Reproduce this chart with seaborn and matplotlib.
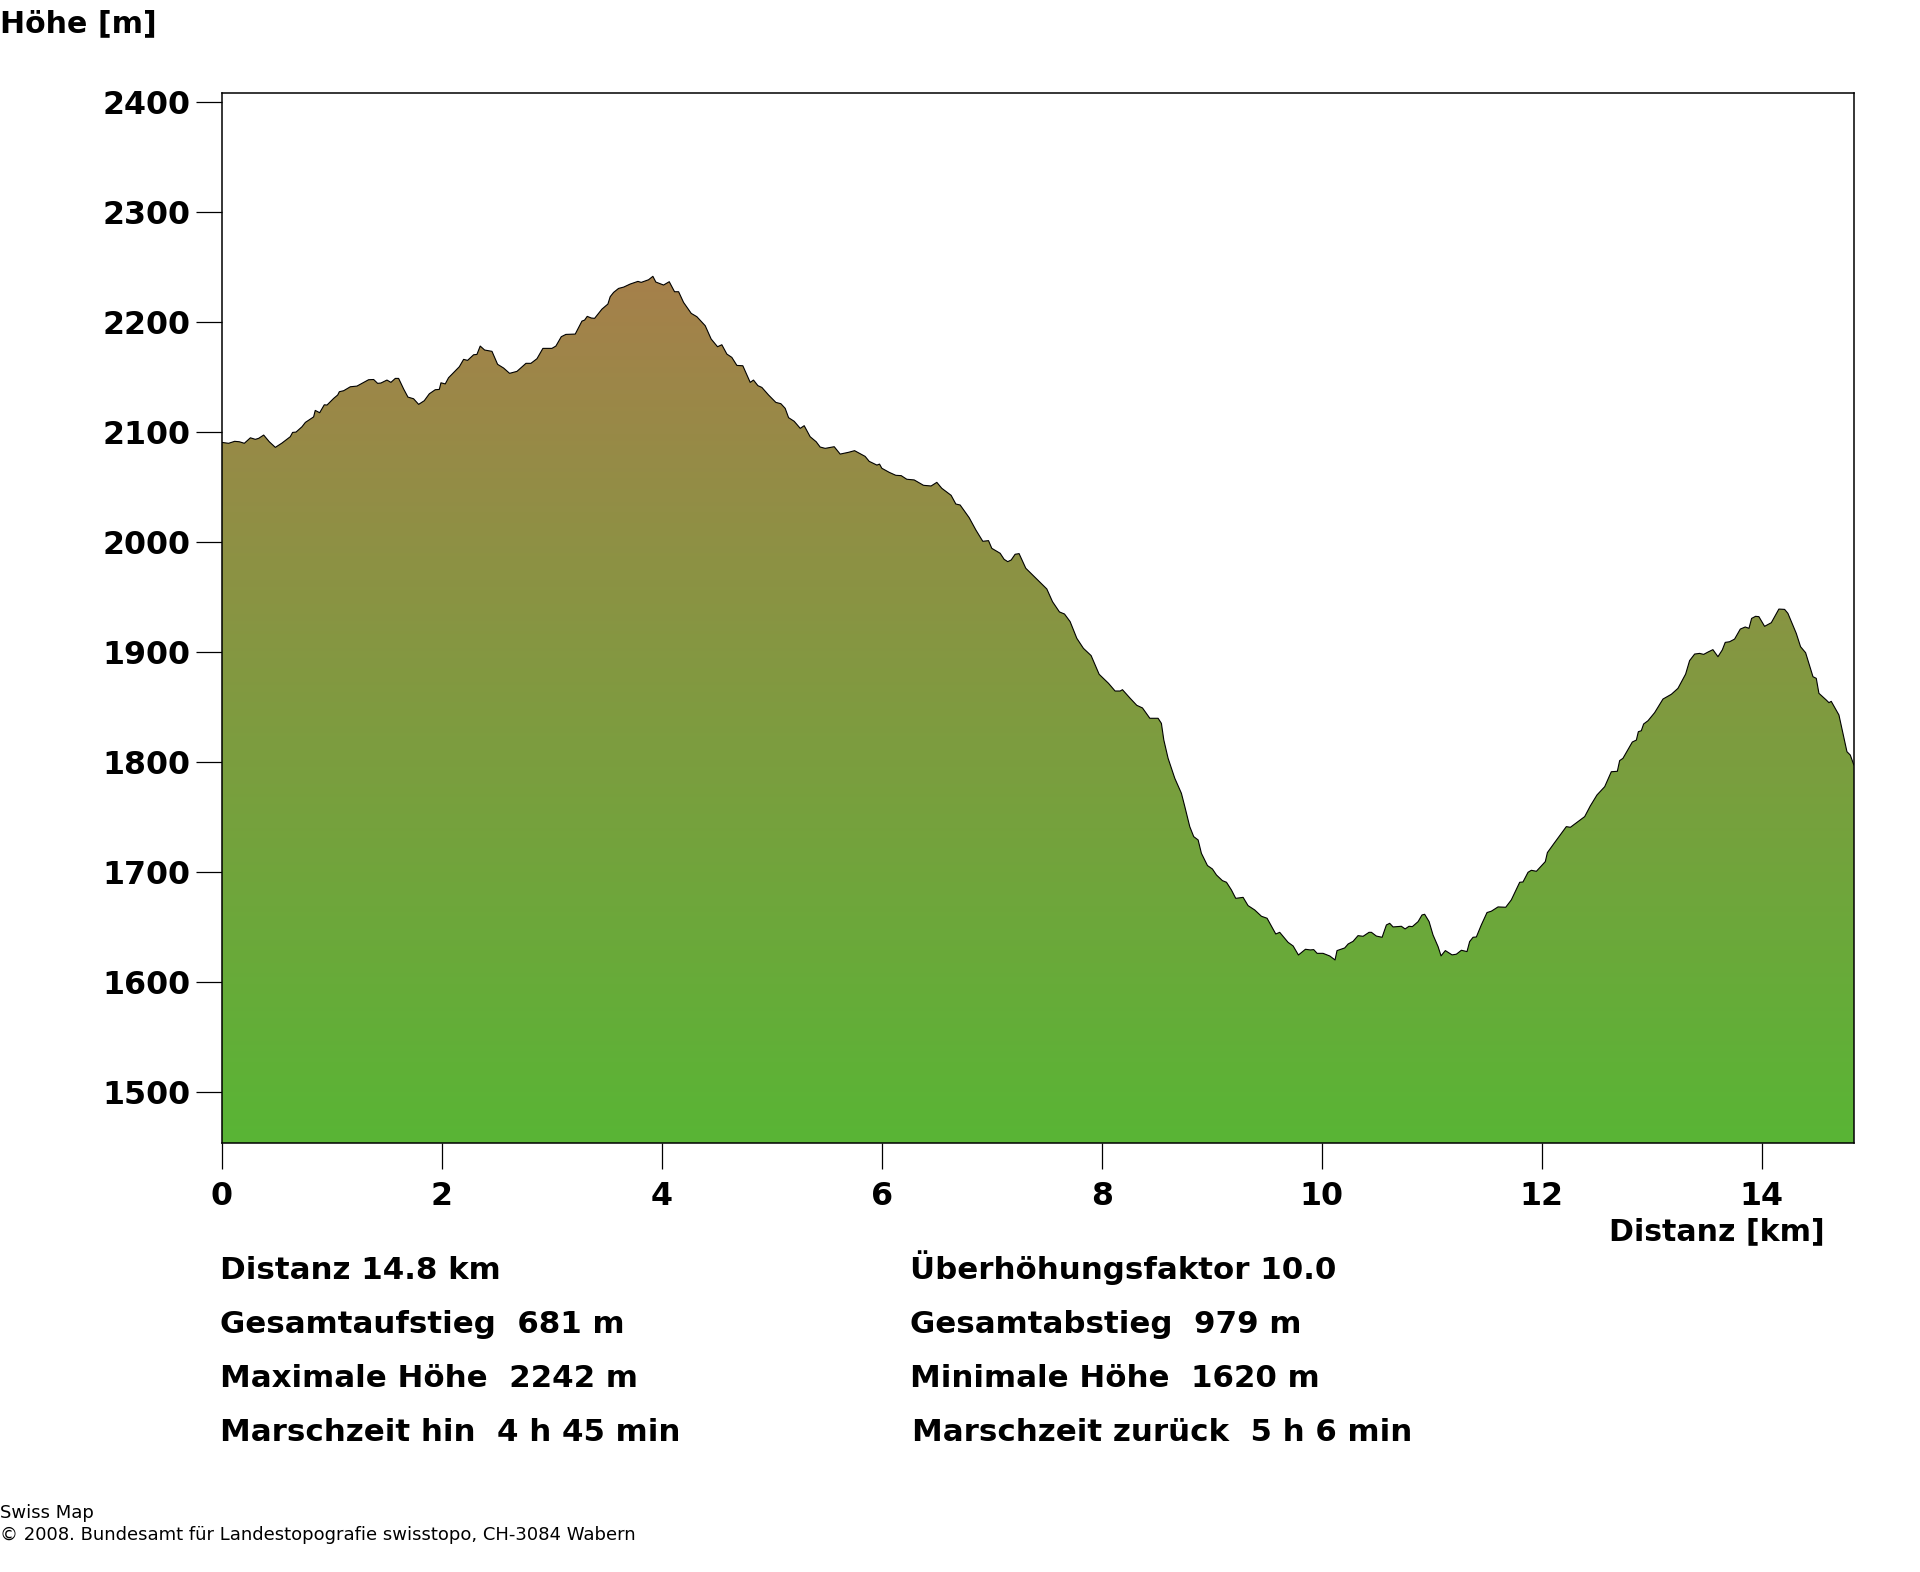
import matplotlib
matplotlib.use("Agg")
import matplotlib.pyplot as plt
from matplotlib.colors import LinearSegmentedColormap
import numpy as np
import pandas as pd
import seaborn as sns

# Profile
distance_km = [
    0.00, 0.06, 0.115, 0.158, 0.203, 0.258, 0.303, 0.333, 0.379, 0.43, 0.485, 0.545, 0.621, 0.642, 0.673,
    0.727, 0.758, 0.833, 0.848, 0.888, 0.93, 0.955, 1.015, 1.052, 1.067, 1.106, 1.167, 1.227, 1.333, 1.379,
    1.415, 1.445, 1.5, 1.536, 1.576, 1.606, 1.652, 1.691, 1.742, 1.788, 1.839, 1.885, 1.939, 1.976, 1.991,
    2.03, 2.06, 2.158, 2.197, 2.233, 2.288, 2.318, 2.348, 2.388, 2.455, 2.506, 2.561, 2.615, 2.682, 2.764,
    2.809, 2.864, 2.918, 3.0, 3.036, 3.085, 3.127, 3.212, 3.273, 3.297, 3.321, 3.358, 3.388, 3.455, 3.509,
    3.53, 3.561, 3.606, 3.652, 3.712, 3.782, 3.812, 3.879, 3.918, 3.945, 4.015, 4.067, 4.115, 4.152, 4.197,
    4.267, 4.318, 4.394, 4.448, 4.506, 4.545, 4.591, 4.636, 4.682, 4.736, 4.803, 4.833, 4.873, 4.909, 4.97,
    5.036, 5.082, 5.121, 5.152, 5.203, 5.258, 5.294, 5.348, 5.403, 5.439, 5.485, 5.567, 5.621, 5.697, 5.752,
    5.848, 5.885, 5.955, 5.979, 6.0, 6.067, 6.127, 6.176, 6.227, 6.294, 6.379, 6.448, 6.5, 6.545, 6.63,
    6.673, 6.712, 6.794, 6.855, 6.918, 6.97, 7.0, 7.076, 7.112, 7.145, 7.176, 7.212, 7.248, 7.309, 7.424,
    7.5, 7.552, 7.615, 7.661, 7.712, 7.773, 7.833, 7.903, 7.976, 8.061, 8.121, 8.167, 8.188, 8.258, 8.318,
    8.37, 8.437, 8.512, 8.542, 8.564, 8.603, 8.664, 8.724, 8.755, 8.8, 8.836, 8.876, 8.906, 8.961, 9.006,
    9.043, 9.097, 9.134, 9.179, 9.218, 9.285, 9.33, 9.391, 9.452, 9.503, 9.582, 9.618, 9.694, 9.74, 9.788,
    9.852, 9.897, 9.927, 9.958, 10.012, 10.073, 10.121, 10.139, 10.209, 10.24, 10.285, 10.33, 10.376, 10.43,
    10.452, 10.497, 10.549, 10.588, 10.618, 10.649, 10.724, 10.758, 10.794, 10.824, 10.876, 10.912, 10.936,
    10.976, 11.012, 11.058, 11.085, 11.124, 11.185, 11.224, 11.27, 11.321, 11.345, 11.376, 11.406, 11.451,
    11.503, 11.542, 11.603, 11.673, 11.724, 11.8, 11.83, 11.876, 11.906, 11.952, 12.033, 12.052, 12.109,
    12.224, 12.261, 12.33, 12.391, 12.442, 12.503, 12.573, 12.633, 12.688, 12.709, 12.739, 12.824, 12.861,
    12.879, 12.906, 12.927, 12.967, 13.027, 13.103, 13.179, 13.239, 13.309, 13.345, 13.391, 13.436, 13.473,
    13.512, 13.557, 13.603, 13.642, 13.669, 13.709, 13.754, 13.806, 13.851, 13.885, 13.909, 13.945, 13.975,
    14.027, 14.088, 14.157, 14.209, 14.239, 14.315, 14.354, 14.4, 14.467, 14.497, 14.521, 14.588, 14.612,
    14.633, 14.703, 14.733, 14.776, 14.806, 14.839,
]
elevation_m = [
    2090.8, 2090, 2091.8, 2091.4, 2090, 2095, 2093.6, 2094.5, 2097.5, 2091.4, 2086.3, 2090.2, 2096, 2099.9, 2100.2,
    2105, 2109, 2114, 2119.9, 2117.8, 2125, 2124.8, 2130.8, 2133.9, 2136.9, 2137.8, 2141.4, 2142, 2147.8, 2148,
    2144.5, 2144.8, 2147.5, 2145.4, 2149, 2149, 2139.3, 2132, 2130.5, 2125.4, 2128.7, 2135, 2138.7, 2139, 2145,
    2144, 2149.6, 2159.6, 2166.3, 2165.4, 2170.5, 2170.8, 2178.4, 2174.8, 2173.6, 2161.8, 2158.4, 2153.6, 2155.4, 2162.7,
    2162.7, 2166.9, 2176.3, 2176.3, 2178.4, 2186.9, 2189, 2189.3, 2201.1, 2202, 2205.4, 2203.9, 2203.6, 2212, 2216.6,
    2223.3, 2227.2, 2230.8, 2232, 2234.8, 2237.2, 2236.3, 2238.7, 2241.8, 2236.6, 2233.9, 2236.9, 2227.8, 2227.8, 2218.1,
    2208.1, 2205.1, 2196.9, 2184.8, 2177.8, 2179.6, 2171.1, 2168.1, 2160.8, 2160.5, 2145.4, 2147.5, 2142.4, 2140.8, 2133.9,
    2127.2, 2126, 2121.8, 2113.3, 2110, 2103.6, 2106, 2096, 2091.4, 2086.6, 2085.4, 2086.9, 2080.2, 2081.8, 2083.3,
    2078.1, 2073.6, 2070.2, 2071.1, 2067.3, 2063.6, 2060.9, 2060.6, 2057.3, 2056.7, 2051.8, 2051.2, 2054.5, 2049.1, 2042.7,
    2034.8, 2033.9, 2022.4, 2011.2, 2000.9, 2001.5, 1994.5, 1990, 1984.5, 1982.4, 1983.9, 1989.1, 1989.7, 1976.4, 1965.1,
    1957.6, 1946, 1936.7, 1934.8, 1927.9, 1912.7, 1903.6, 1897, 1880, 1871.8, 1864.8, 1864.8, 1866, 1858.2, 1851.8,
    1849.4, 1840, 1840, 1835.4, 1820.3, 1803.6, 1785.4, 1771.8, 1759.7, 1741.5, 1732.4, 1729.4, 1717.2, 1706.1, 1703,
    1697.5, 1692.4, 1690.9, 1683.9, 1676.3, 1677.2, 1669.7, 1665.7, 1660, 1658.2, 1643.9, 1645.4, 1636.3, 1633, 1624.8,
    1630, 1629.4, 1629.7, 1626.3, 1626.3, 1623.9, 1620.3, 1628.8, 1631.2, 1634.8, 1637.2, 1642.4, 1641.8, 1645.4,
    1645.4, 1642, 1640.9, 1652.1, 1653.6, 1650.3, 1650.9, 1648.5, 1650.9, 1650.6, 1655.1, 1661.2, 1661.8,
    1655.2, 1643, 1632.4, 1624, 1628.8, 1624.9, 1625.5, 1629.1, 1627.9, 1637, 1640.9, 1641.2, 1652.1,
    1663.4, 1664.6, 1668.5, 1668.2, 1674.9, 1690.9, 1691.2, 1700, 1701.8, 1700.9, 1709.7, 1717.9, 1725.8,
    1741.5, 1740.9, 1746.1, 1750.6, 1760.3, 1770.3, 1777.8, 1791.4, 1791.8, 1801.5, 1803.6, 1818.4, 1820.2,
    1827.8, 1828.7, 1834.8, 1837.8, 1845.1, 1857.5, 1861.8, 1867.2, 1880.2, 1892.4, 1898.4, 1899, 1898.1,
    1900.2, 1902.4, 1896, 1902.1, 1909, 1909.6, 1912, 1921.1, 1923, 1921.8, 1930.8, 1932.7, 1932.4,
    1923.6, 1926.9, 1939.3, 1939, 1935.4, 1917.2, 1905.1, 1899.6, 1877.8, 1876.3, 1862.7, 1856.6, 1854.2,
    1855.4, 1843, 1829.3, 1809.6, 1806.6, 1797.5,
]

x_ticks = [0, 2, 4, 6, 8, 10, 12, 14]
y_ticks = [1500, 1600, 1700, 1800, 1900, 2000, 2100, 2200, 2300, 2400]

left_stats = ["Distanz 14.8 km", "Gesamtaufstieg  681 m", "Maximale Höhe  2242 m", "Marschzeit hin  4 h 45 min"]
right_stats = ["Überhöhungsfaktor 10.0", "Gesamtabstieg  979 m", "Minimale Höhe  1620 m", "Marschzeit zurück  5 h 6 min"]

W, H = 1920, 1572
TICK_SIZE = 22.8  # pt
LABEL_SIZE = 21.6
STAT_SIZE = 22.2


def px_text(x, y, s, **kw):
    # x, baseline y in image pixels
    plt.gcf().text(x / W, 1 - y / H, s, va="baseline", **kw)


sns.set_style("white")
plt.rcParams["font.family"] = ["DejaVu Sans"]

fig = plt.figure(figsize=(W / 100, H / 100), dpi=100)
ax = fig.add_axes([222 / W, 1 - 1143.3 / H, (1854 - 222) / W, (1143.3 - 93.3) / H])

df = pd.DataFrame({"distance": distance_km, "elevation": elevation_m})

xlim = (0, 14.84)
ylim = (1453.6, 2408.2)

# colour ramp from the valley floor up to the summit
cmap = LinearSegmentedColormap.from_list("terrain_ramp", ["#59b535", "#a6804b"])
grad = np.linspace(0, 1, 256).reshape(-1, 1)
img = ax.imshow(grad, origin="lower", cmap=cmap, aspect="auto", zorder=1,
                extent=(xlim[0], xlim[1], ylim[0], 2242))
poly = ax.fill_between(df["distance"], df["elevation"], ylim[0], color="none", lw=0)
img.set_clip_path(poly.get_paths()[0], transform=ax.transData)

sns.lineplot(data=df, x="distance", y="elevation", ax=ax, color="black", lw=0.8,
             estimator=None, sort=False, zorder=2)

ax.set_xlim(xlim)
ax.set_ylim(ylim)
ax.set_xticks(x_ticks)
ax.set_yticks(y_ticks)
ax.set_xlabel("")
ax.set_ylabel("")
ax.tick_params(axis="both", which="major", direction="out", length=19, width=0.9, color="black",
               bottom=True, left=True, labelcolor="black", labelsize=TICK_SIZE)
ax.tick_params(axis="x", pad=8)
ax.tick_params(axis="y", pad=4)
for lab in ax.get_xticklabels() + ax.get_yticklabels():
    lab.set_fontweight("bold")
for side in ax.spines.values():
    side.set_visible(True)
    side.set_color("black")
    side.set_linewidth(1.1)
    side.set_zorder(5)

px_text(0, 32, "Höhe [m]", fontsize=LABEL_SIZE, fontweight="bold", color="black")
px_text(1609, 1240, "Distanz [km]", fontsize=LABEL_SIZE, fontweight="bold", color="black")

row_y = [1279.3, 1333.3, 1387.3, 1441.3]
for y, s in zip(row_y, left_stats):
    px_text(220, y, s, fontsize=STAT_SIZE, fontweight="bold", color="black")
for i, (y, s) in enumerate(zip(row_y, right_stats)):
    px_text(912 if i == 3 else 910, y, s, fontsize=STAT_SIZE, fontweight="bold", color="black")

px_text(0, 1518, "Swiss Map", fontsize=13, family="DejaVu Sans", color="black")
px_text(0, 1540, "© 2008. Bundesamt für Landestopografie swisstopo, CH-3084 Wabern",
        fontsize=13, family="DejaVu Sans", color="black")

fig.savefig("out.png", dpi=100, facecolor="white")
